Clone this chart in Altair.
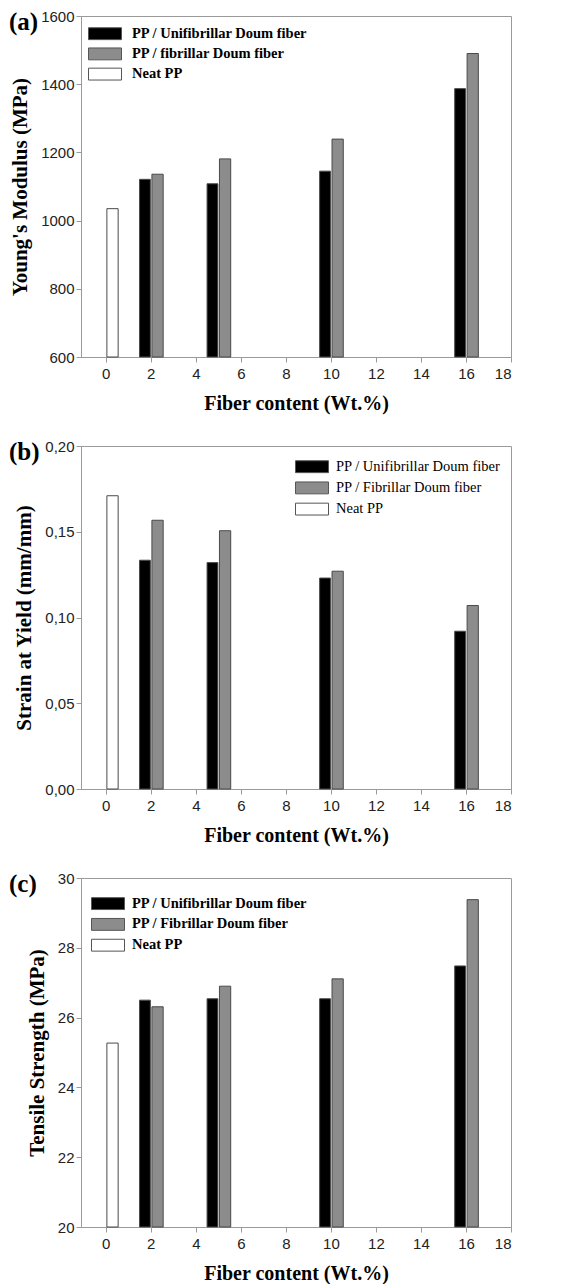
import altair as alt
import pandas as pd

# ---- data ----
content = [2, 5, 10, 16]
neat_content = [0]

ym_uni = [1121, 1108, 1145, 1387]
ym_fib = [1136, 1181, 1239, 1490]
ym_neat = [1035]

sy_uni = [0.1334, 0.132, 0.123, 0.092]
sy_fib = [0.1567, 0.1506, 0.127, 0.107]
sy_neat = [0.171]

ts_uni = [26.50, 26.54, 26.54, 27.48]
ts_fib = [26.31, 26.90, 27.11, 29.38]
ts_neat = [25.27]

labels_a = ["PP / Unifibrillar Doum fiber", "PP / fibrillar Doum fiber", "Neat PP"]
labels_b = ["PP / Unifibrillar Doum fiber", "PP / Fibrillar Doum fiber", "Neat PP"]
labels_c = ["PP / Unifibrillar Doum fiber", "PP / Fibrillar Doum fiber", "Neat PP"]

x_ticks = list(range(0, 19, 2))
ya_ticks = [600, 800, 1000, 1200, 1400, 1600]
yb_ticks = [0.0, 0.05, 0.10, 0.15, 0.20]
yc_ticks = [20, 22, 24, 26, 28, 30]

# ---- style ----
SERIF = "Liberation Serif"
SANS = "Liberation Sans"
BAR_START = {"uni": -0.5, "fib": 0.05, "neat": 0.05}
BAR_END = {"uni": -0.02, "fib": 0.55, "neat": 0.55}
COLORS = ["#000000", "#8c8c8c", "#ffffff"]
RECT = "M-1,-0.36L1,-0.36L1,0.36L-1,0.36Z"
FRAME = "#9a9a9a"
W = 430


def panel(labels, uni, fib, neat, ytitle, ydomain, yticks, label_expr,
          legend_x, legend_y, legend_weight, label_offset, row_padding,
          tag, height):
    rows = []
    for key, name, xs, vals in [("uni", labels[0], content, uni),
                                ("fib", labels[1], content, fib),
                                ("neat", labels[2], neat_content, neat)]:
        for c, v in zip(xs, vals):
            rows.append({"series": name, "content": c, "value": v,
                         "start": c + BAR_START[key], "end": c + BAR_END[key]})
    df = pd.DataFrame(rows)

    axis_kwargs = dict(values=yticks, title=ytitle, titleFontSize=21,
                       titlePadding=10, tickSize=5, labelPadding=2)
    if label_expr:
        axis_kwargs["labelExpr"] = label_expr
    else:
        axis_kwargs["format"] = "d"

    bars = alt.Chart(df).mark_bar(stroke="#4a4a4a", strokeWidth=1).encode(
        x=alt.X("start:Q", scale=alt.Scale(domain=[-1.1, 18], nice=False, zero=False),
                axis=alt.Axis(values=x_ticks, title="Fiber content (Wt.%)",
                              titleFontSize=20, titlePadding=12, tickSize=5,
                              labelPadding=4, format="d")),
        x2="end:Q",
        y=alt.Y("value:Q", scale=alt.Scale(domain=ydomain, nice=False, zero=False),
                axis=alt.Axis(**axis_kwargs)),
        y2=alt.datum(ydomain[0]),
        color=alt.Color("series:N",
                        scale=alt.Scale(domain=labels, range=COLORS),
                        legend=alt.Legend(orient="none", legendX=legend_x, legendY=legend_y,
                                          title=None, symbolType=RECT, symbolSize=1089,
                                          symbolStrokeColor="#555555", symbolStrokeWidth=1,
                                          symbolOpacity=1, labelLimit=400, clipHeight=16,
                                          labelFont=SERIF, labelFontSize=14.5,
                                          labelFontWeight=legend_weight, labelColor="black",
                                          labelOffset=label_offset, rowPadding=row_padding,
                                          padding=0)),
    )
    tag_text = alt.Chart(pd.DataFrame({"tag": [tag]})).mark_text(
        font=SERIF, fontSize=25, fontWeight="bold", color="black",
        align="left", baseline="alphabetic",
    ).encode(x=alt.value(-72), y=alt.value(14), text="tag:N")

    return alt.layer(bars, tag_text).properties(width=W, height=height)


a = panel(labels_a, ym_uni, ym_fib, ym_neat, "Young's Modulus (MPa)", [600, 1600],
          ya_ticks, None, 7, 9.7, "bold", 10, 4.2, "(a)", 341)
b = panel(labels_b, sy_uni, sy_fib, sy_neat, "Strain at Yield (mm/mm)", [0, 0.20],
          yb_ticks, "replace(format(datum.value, '.2f'), '.', ',')",
          214, 12.7, "normal", 7, 5.2, "(b)", 343)
c = panel(labels_c, ts_uni, ts_fib, ts_neat, "Tensile Strength (MPa)", [20, 30],
          yc_ticks, None, 10, 17.6, "bold", 7, 4.8, "(c)", 349)

chart = alt.vconcat(a, b, c, spacing=24).resolve_scale(
    color="independent").resolve_legend(color="independent").properties(
    padding={"left": 0, "top": 0, "right": 0, "bottom": 0}
).configure_view(stroke=FRAME, strokeWidth=1).configure_axis(
    domainColor=FRAME, tickColor=FRAME, grid=False,
    labelFont=SANS, labelFontSize=15, labelColor="#222222",
    titleFont=SERIF, titleFontWeight="bold", titleColor="black",
)

chart.save("out.html", embed_options={"renderer": "svg", "actions": False})
